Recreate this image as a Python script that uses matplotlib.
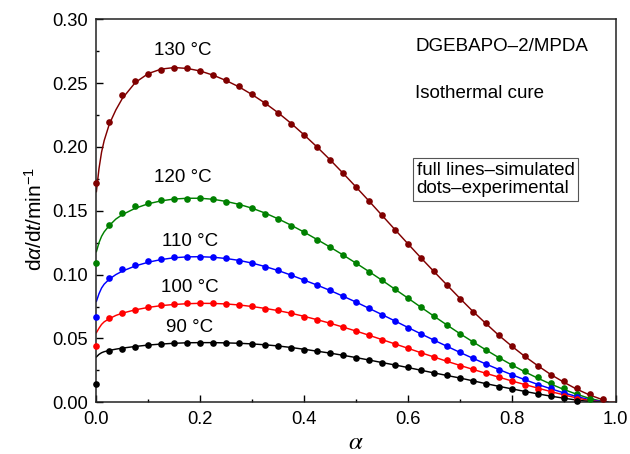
import numpy as np
import matplotlib
matplotlib.use("Agg")
import matplotlib.pyplot as plt

plt.rcParams['font.family'] = ['Liberation Sans', 'DejaVu Sans']
plt.rcParams['mathtext.fontset'] = 'custom'
plt.rcParams['mathtext.rm'] = 'Liberation Sans'
plt.rcParams['mathtext.it'] = 'Liberation Sans:italic'

# Experimental points, every 0.025 in conversion
exp_step = 0.025
exp_130 = [0.172, 0.2197, 0.2409, 0.2514, 0.2571, 0.2600, 0.2615, 0.2615, 0.2594, 0.2563,
           0.2524, 0.2474, 0.2417, 0.2341, 0.2265, 0.2180, 0.2090, 0.1997, 0.1897, 0.1793,
           0.1686, 0.1576, 0.1464, 0.1352, 0.1240, 0.1130, 0.1026, 0.0918, 0.0811, 0.0710,
           0.0619, 0.0525, 0.0439, 0.0360, 0.0287, 0.0216, 0.0164, 0.0114, 0.0065, 0.0026]
exp_120 = [0.1088, 0.1390, 0.1480, 0.1537, 0.1563, 0.1584, 0.1594, 0.1594, 0.1602, 0.1590,
           0.1569, 0.1543, 0.1521, 0.1475, 0.1433, 0.1383, 0.1331, 0.1273, 0.1216, 0.1156,
           0.1088, 0.1023, 0.0955, 0.0885, 0.0814, 0.0744, 0.0673, 0.0604, 0.0537, 0.0475,
           0.0412, 0.0349, 0.0294, 0.0243, 0.0196, 0.0150, 0.0108, 0.0064, 0.0028]
exp_110 = [0.0668, 0.0971, 0.1041, 0.1078, 0.1106, 0.1122, 0.1135, 0.1140, 0.1140, 0.1138,
           0.1128, 0.1109, 0.1093, 0.1057, 0.1034, 0.0994, 0.0958, 0.0919, 0.0879, 0.0832,
           0.0785, 0.0736, 0.0686, 0.0637, 0.0584, 0.0535, 0.0488, 0.0440, 0.0392, 0.0345,
           0.0300, 0.0255, 0.0216, 0.0180, 0.0138, 0.0108, 0.0076, 0.0039]
exp_100 = [0.0443, 0.0663, 0.0697, 0.0723, 0.0749, 0.0760, 0.0767, 0.0775, 0.0775, 0.0775,
           0.0770, 0.0762, 0.0752, 0.0733, 0.0723, 0.0697, 0.0670, 0.0647, 0.0619, 0.0590,
           0.0558, 0.0525, 0.0490, 0.0457, 0.0425, 0.0388, 0.0357, 0.0330, 0.0287, 0.0258,
           0.0227, 0.0196, 0.0164, 0.0135, 0.0105, 0.0078, 0.0050, 0.0024]
exp_90 = [0.0141, 0.0402, 0.0420, 0.0435, 0.0449, 0.0457, 0.0462, 0.0467, 0.0467, 0.0467,
          0.0464, 0.0462, 0.0457, 0.0449, 0.0441, 0.0428, 0.0412, 0.0399, 0.0384, 0.0368,
          0.0349, 0.0329, 0.0310, 0.0292, 0.0274, 0.0251, 0.0229, 0.0210, 0.0190, 0.0167,
          0.0146, 0.0122, 0.0104, 0.0083, 0.0065, 0.0049, 0.0031, 0.0012]

# Simulated curves
sim_alpha = [0.0, 0.005, 0.01, 0.015, 0.025, 0.0375, 0.05, 0.075, 0.1, 0.125, 0.15, 0.175,
             0.2, 0.225, 0.25, 0.275, 0.3, 0.325, 0.35, 0.375, 0.4, 0.425, 0.45, 0.475,
             0.5, 0.525, 0.55, 0.575, 0.6, 0.625, 0.65, 0.675, 0.7, 0.725, 0.75, 0.775,
             0.8, 0.825, 0.85, 0.875, 0.9, 0.925, 0.95, 0.975, 0.985, 1.0]
sim_130 = [0.165, 0.183, 0.196, 0.205, 0.218, 0.229, 0.238, 0.2505, 0.2575, 0.261, 0.2622, 0.2615,
           0.2595, 0.2562, 0.252, 0.247, 0.241, 0.2343, 0.2268, 0.2185, 0.2095, 0.2, 0.19, 0.1795,
           0.1687, 0.1577, 0.1465, 0.1353, 0.1242, 0.1132, 0.1025, 0.092, 0.0815, 0.0713, 0.0618, 0.0525,
           0.044, 0.036, 0.0287, 0.0218, 0.0158, 0.0103, 0.0057, 0.002, 0.0, None]
sim_120 = [0.118, 0.125, 0.13, 0.1335, 0.1385, 0.1435, 0.147, 0.152, 0.1555, 0.1578, 0.1592, 0.1598,
           0.1598, 0.159, 0.1573, 0.155, 0.152, 0.1482, 0.1437, 0.1387, 0.1333, 0.1275, 0.1216, 0.1154,
           0.109, 0.1024, 0.0956, 0.0886, 0.0816, 0.0745, 0.0675, 0.0606, 0.0538, 0.0474, 0.0411, 0.035,
           0.0293, 0.0239, 0.0189, 0.0143, 0.0101, 0.0063, 0.003, 0.0007, 0.0, None]
sim_110 = [0.079, 0.085, 0.0895, 0.0925, 0.0965, 0.1, 0.1027, 0.1068, 0.1097, 0.1118, 0.1132, 0.1139,
           0.114, 0.1136, 0.1126, 0.1111, 0.109, 0.1063, 0.1032, 0.0996, 0.0957, 0.0918, 0.0876, 0.0831,
           0.0785, 0.0736, 0.0687, 0.0637, 0.0586, 0.0536, 0.0487, 0.0439, 0.0391, 0.0345, 0.03, 0.0257,
           0.0216, 0.0177, 0.014, 0.0106, 0.0074, 0.0045, 0.002, 0.0004, 0.0, None]
sim_100 = [0.0545, 0.058, 0.061, 0.063, 0.0655, 0.068, 0.0698, 0.0724, 0.0743, 0.0757, 0.0766, 0.0772,
           0.0775, 0.0774, 0.077, 0.0762, 0.075, 0.0735, 0.0718, 0.0697, 0.0673, 0.0647, 0.0619, 0.0589,
           0.0558, 0.0525, 0.0491, 0.0457, 0.0423, 0.0388, 0.0355, 0.0321, 0.0289, 0.0258, 0.0227, 0.0197,
           0.0167, 0.0139, 0.0111, 0.0084, 0.0058, 0.0034, 0.0013, 0.0002, 0.0, 0.0]
sim_90 = [0.0355, 0.0375, 0.0388, 0.0396, 0.0406, 0.0416, 0.0424, 0.0437, 0.0448, 0.0456, 0.0462, 0.0466,
          0.0467, 0.0467, 0.0465, 0.0462, 0.0457, 0.045, 0.0441, 0.0429, 0.0415, 0.04, 0.0385, 0.0368,
          0.035, 0.0331, 0.0311, 0.0292, 0.0272, 0.0251, 0.023, 0.021, 0.019, 0.0168, 0.0146, 0.0125,
          0.0105, 0.0085, 0.0066, 0.0048, 0.0032, 0.0017, 0.0006, 0.0001, 0.0, None]

temps = ["130 °C", "120 °C", "110 °C", "100 °C", "90 °C"]
colors = ["#800000", "#008000", "#0000ff", "#ff0000", "#000000"]
exp_sets = [exp_130, exp_120, exp_110, exp_100, exp_90]
sim_sets = [sim_130, sim_120, sim_110, sim_100, sim_90]
label_pos = [(0.167, 0.2755), (0.167, 0.1764), (0.18, 0.1258), (0.18, 0.090), (0.18, 0.0584)]

fig = plt.figure(figsize=(6.30, 4.54), dpi=100)
ax = fig.add_axes([0.153, 0.114, 0.824, 0.8435])

for name, col, e, s, (lx, ly) in zip(temps, colors, exp_sets, sim_sets, label_pos):
    xs = np.array(sim_alpha, dtype=float)
    ys = np.array([np.nan if v is None else v for v in s], dtype=float)
    ax.plot(xs, ys, color=col, lw=1.05, zorder=2)
    ex = np.arange(len(e)) * exp_step
    ax.plot(ex, e, 'o', color=col, ms=4.8, mew=0, zorder=3, clip_on=False)
    ax.text(lx, ly, name, ha='center', va='center', fontsize=13.5, color='black')

ax.set_xlim(0, 1.0)
ax.set_ylim(0, 0.30)
ax.set_xticks(np.arange(0, 1.01, 0.2))
ax.set_xticks(np.arange(0, 1.01, 0.1), minor=True)
ax.set_yticks(np.arange(0, 0.301, 0.05))
ax.set_yticks(np.arange(0, 0.301, 0.025), minor=True)
ax.xaxis.set_major_formatter(matplotlib.ticker.FormatStrFormatter('%.1f'))
ax.yaxis.set_major_formatter(matplotlib.ticker.FormatStrFormatter('%.2f'))
ax.tick_params(which='both', direction='in', top=False, right=False, labelsize=13.2,
               colors='black', width=1.0)
ax.tick_params(which='major', length=5)
ax.tick_params(axis='y', which='major', pad=6)
ax.tick_params(axis='x', which='major', pad=6)
ax.tick_params(which='minor', length=2.5)
for sp in ax.spines.values():
    sp.set_linewidth(1.1)
    sp.set_color('#222222')

ax.set_ylabel(r'd$\alpha$/d$t$/min$^{-1}$', fontsize=15)
ax.yaxis.set_label_coords(-0.098, 0.479)
ax.set_xlabel(r'$\alpha$', fontsize=18, math_fontfamily='stix', labelpad=2)

ax.text(0.614, 0.2785, 'DGEBAPO–2/MPDA', fontsize=13.5, ha='left', va='center')
ax.text(0.614, 0.242, 'Isothermal cure', fontsize=13.5, ha='left', va='center')
ax.text(0.617, 0.1745, 'full lines–simulated\ndots–experimental', fontsize=13.5,
        ha='left', va='center', linespacing=1.1,
        bbox=dict(boxstyle='square,pad=0.2', fc='white', ec='#555555', lw=0.8))

fig.savefig('out.png', dpi=100)
